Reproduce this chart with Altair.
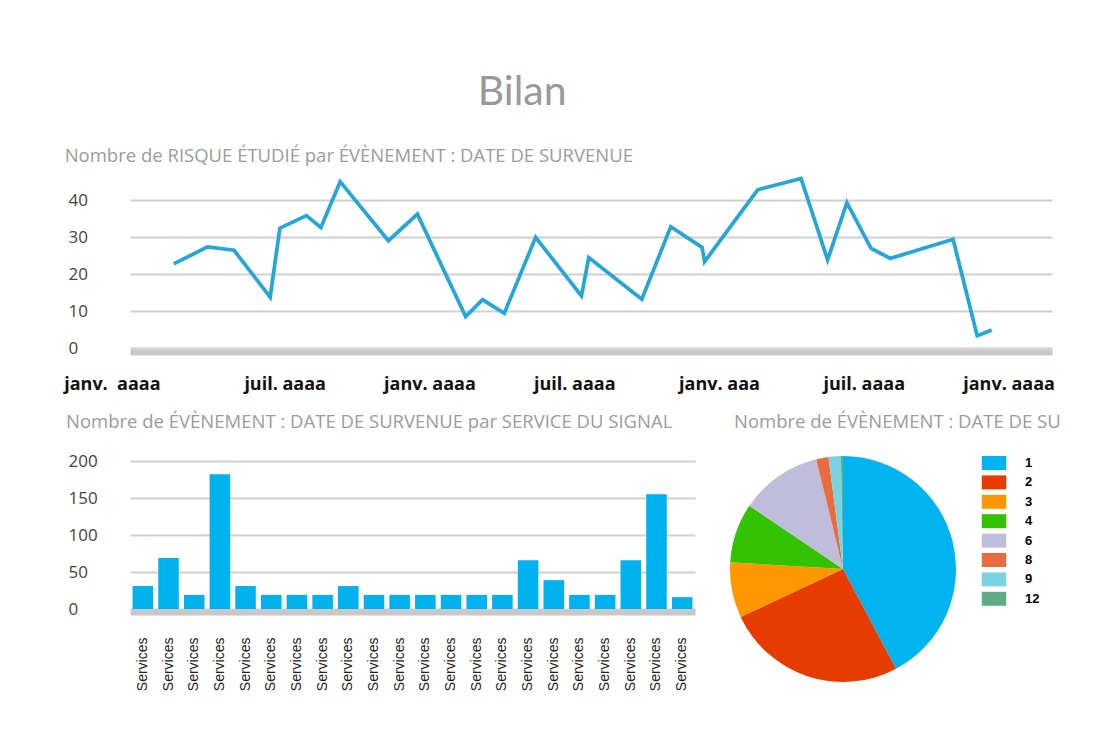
import json
import altair as alt
import pandas as pd

# ---------------- data ----------------
# top line chart : month offset (0 = first "janv.") and value
line_months = [1.4, 2.8, 3.9, 5.4, 5.8, 6.9, 7.5, 8.3, 10.3, 11.5, 13.5, 14.2, 15.1, 16.4,
               18.3, 18.6, 20.8, 22.0, 23.3, 23.4, 25.6, 27.4, 28.5, 29.3, 30.3, 31.1,
               33.7, 34.7, 35.3]
line_values = [22.8, 27.4, 26.5, 13.8, 32.5, 35.9, 32.7, 45.1, 29.1, 36.3, 8.5, 13.1, 9.4,
               30.0, 14.1, 24.5, 13.2, 32.9, 27.3, 23.4, 42.9, 46.0, 23.9, 39.4, 27.0,
               24.3, 29.5, 3.3, 4.9]
x_tick_months = [0, 6, 12, 18, 24, 30, 36]
x_tick_labels = ["janv.\u00a0 aaaa", "juil. aaaa", "janv. aaaa", "juil. aaaa",
                 "janv. aaa", "juil. aaaa", "janv. aaaa"]
line_y_ticks = [0, 10, 20, 30, 40]

# bar chart
services = ["Services"] * 22
service_counts = [31, 69, 19, 182, 31, 19, 19, 19, 31, 19, 19, 19, 19, 19, 19,
                  66, 39, 19, 19, 66, 155, 16]
bar_y_ticks = [0, 50, 100, 150, 200]

# pie chart
pie_keys = ["1", "2", "3", "4", "6", "8", "9", "12"]
pie_counts = [144, 88, 27, 29, 40, 6, 6, 1]
pie_colors = ["#00b4ef", "#e63c00", "#ff9700", "#33c200", "#bfbddb",
              "#e86c40", "#7ad4e0", "#5fab88"]

# ---------------- styles ----------------
GRAY_TITLE = "#9b9b9b"
FONT = "Open Sans"

line_df = pd.DataFrame({"mois": line_months, "nb": line_values})
bar_df = pd.DataFrame({"idx": list(range(len(services))), "service": services,
                       "nb": service_counts})
pie_df = pd.DataFrame({"cle": pie_keys, "nb": pie_counts,
                       "ordre": list(range(len(pie_keys)))})

x_label_expr = "%s[indexof(%s, datum.value)]" % (
    json.dumps(x_tick_labels, ensure_ascii=False), json.dumps(x_tick_months))

line = alt.Chart(
    line_df,
    title=alt.TitleParams("Nombre de RISQUE ÉTUDIÉ par ÉVÈNEMENT : DATE DE SURVENUE",
                          anchor="start", font=FONT, fontSize=18.5, fontWeight="normal",
                          color=GRAY_TITLE, offset=5, dx=1),
).mark_line(color="#22a6dc", strokeWidth=3.7, strokeJoin="miter").encode(
    x=alt.X("mois:Q",
            scale=alt.Scale(domain=[-0.41, 37.8], nice=False, zero=False),
            axis=alt.Axis(values=x_tick_months, labelExpr=x_label_expr, title=None,
                          grid=False, ticks=False, domainColor="#c8c8c8", domainWidth=6,
                          offset=4, labelFont=FONT, labelFontSize=18,
                          labelFontWeight="bold", labelColor="#111111",
                          labelPadding=23, labelFlush=False, labelOverlap=False,
                          labelOffset={"condition": {"test": "datum.value == 0",
                                                     "value": -28},
                                       "value": 0})),
    y=alt.Y("nb:Q",
            scale=alt.Scale(domain=[0, 48], nice=False),
            axis=alt.Axis(values=line_y_ticks, title=None, domain=False, ticks=False,
                          tickSize=0, gridColor="#cfcfcf", gridWidth=2,
                          labelAlign="left", labelPadding=62, labelFont=FONT,
                          labelFontSize=17, labelColor="#444444")),
).properties(width=922, height=177)

bar = alt.Chart(
    bar_df,
    title=alt.TitleParams("Nombre de ÉVÈNEMENT : DATE DE SURVENUE par SERVICE DU SIGNAL",
                          anchor="start", font=FONT, fontSize=18.5, fontWeight="normal",
                          color=GRAY_TITLE, offset=21, dx=-2),
).mark_bar(color="#00b2ee").encode(
    x=alt.X("idx:O",
            scale=alt.Scale(paddingInner=0.2, paddingOuter=0.1),
            axis=alt.Axis(title=None, labelExpr=json.dumps(services) + "[datum.value]",
                          labelAngle=-90, ticks=False, domainColor="#c8c8c8",
                          domainWidth=6, offset=3, labelPadding=25,
                          labelFont="Liberation Sans", labelFontSize=14,
                          labelColor="#222222")),
    y=alt.Y("nb:Q",
            scale=alt.Scale(domain=[0, 200], nice=False),
            axis=alt.Axis(values=bar_y_ticks, title=None, domain=False, ticks=False,
                          tickSize=0, gridColor="#cfcfcf", gridWidth=2,
                          labelAlign="left", labelPadding=62, labelFont=FONT,
                          labelFontSize=17, labelColor="#444444")),
).properties(width=565, height=148)

rect_path = "M-1.75,-1L1.75,-1L1.75,1L-1.75,1Z"
pie = alt.Chart(
    pie_df,
    title=alt.TitleParams("Nombre de ÉVÈNEMENT : DATE DE SU",
                          anchor="start", font=FONT, fontSize=18.5, fontWeight="normal",
                          color=GRAY_TITLE, offset=25, dx=4),
).mark_arc(radius=113).encode(
    theta=alt.Theta("nb:Q", stack=True),
    color=alt.Color("cle:N", sort=pie_keys,
                    scale=alt.Scale(domain=pie_keys, range=pie_colors),
                    legend=alt.Legend(title=None, orient="none", legendX=257, legendY=-5,
                                      symbolType=rect_path, symbolSize=196,
                                      symbolStrokeWidth=0, rowPadding=5.4,
                                      labelOffset=24, labelFont="Liberation Sans",
                                      labelFontWeight="bold", labelFontSize=13,
                                      labelColor="#000000")),
    order=alt.Order("ordre:Q"),
).properties(width=226, height=216)

bottom = alt.hconcat(bar, pie, spacing=35).resolve_scale(
    color="independent").resolve_legend(color="independent")

chart = alt.vconcat(
    line,
    bottom,
    spacing=19,
    title=alt.TitleParams("Bilan", anchor="middle", font="Lato", fontSize=41,
                          fontWeight="normal", color="#999999", offset=33, dx=-40),
).resolve_scale(color="independent").resolve_legend(color="independent").properties(
    padding={"left": 63, "top": 72, "right": 0, "bottom": 0},
    background="white",
).configure_view(stroke=None)

chart.save("out.html", embed_options={"renderer": "svg", "actions": False})
